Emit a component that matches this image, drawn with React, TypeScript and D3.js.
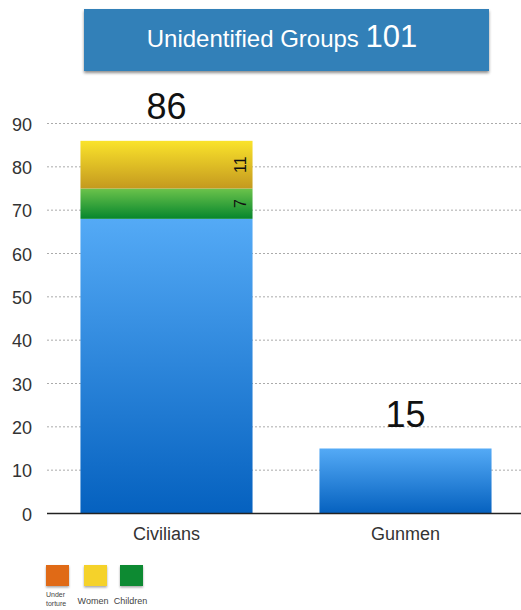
import React from "react";
import * as d3 from "d3";

const categories = ["Civilians", "Gunmen"];
const baseValues = [68, 15];
const childrenValues = [7, 0];
const womenValues = [11, 0];
const totals = [86, 15];
const yTicks = [0, 10, 20, 30, 40, 50, 60, 70, 80, 90];
const legendItems = [
  { key: "Under torture", lines: ["Under", "torture"], color: "#e06a13" },
  { key: "Women", lines: ["Women"], color: "#f5d22a" },
  { key: "Children", lines: ["Children"], color: "#078a30" },
];
const titleText = "Unidentified Groups";
const titleNumber = "101";

const W = 521;
const H = 610;
const FONT = "'Liberation Sans', Arial, Helvetica, sans-serif";

export default function App() {
  const x = d3.scaleBand<string>().domain(categories).range([47, 525]).paddingInner(0.28).paddingOuter(0.14);
  const y = d3.scaleLinear().domain([0, 90]).range([513.5, 123.5]);
  const bw = x.bandwidth();

  const stacks = categories.map((c, i) => {
    const segs: { y0: number; y1: number; grad: string; label?: number }[] = [];
    let acc = 0;
    segs.push({ y0: acc, y1: acc + baseValues[i], grad: "gBlue" });
    acc += baseValues[i];
    if (childrenValues[i] > 0) {
      segs.push({ y0: acc, y1: acc + childrenValues[i], grad: "gGreen", label: childrenValues[i] });
      acc += childrenValues[i];
    }
    if (womenValues[i] > 0) {
      segs.push({ y0: acc, y1: acc + womenValues[i], grad: "gYellow", label: womenValues[i] });
      acc += womenValues[i];
    }
    return { c, segs, top: acc, total: totals[i] };
  });

  return (
    <svg width={W} height={H} style={{ position: "absolute", left: 0, top: 0 }} fontFamily={FONT}>
      <defs>
        <linearGradient id="gBlue" x1="0" y1="0" x2="0" y2="1">
          <stop offset="0" stopColor="#54aaf6" />
          <stop offset="1" stopColor="#0561bf" />
        </linearGradient>
        <linearGradient id="gGreen" x1="0" y1="0" x2="0" y2="1">
          <stop offset="0" stopColor="#6cc34b" />
          <stop offset="1" stopColor="#06862d" />
        </linearGradient>
        <linearGradient id="gYellow" x1="0" y1="0" x2="0" y2="1">
          <stop offset="0" stopColor="#fae32b" />
          <stop offset="1" stopColor="#c4991f" />
        </linearGradient>
        <filter id="shadow" x="-10%" y="-20%" width="120%" height="160%">
          <feDropShadow dx="0" dy="2" stdDeviation="1.5" floodColor="#000" floodOpacity="0.45" />
        </filter>
        <filter id="sqShadow" x="-30%" y="-30%" width="160%" height="170%">
          <feDropShadow dx="0" dy="1.5" stdDeviation="1" floodColor="#000" floodOpacity="0.35" />
        </filter>
      </defs>

      {/* Title box */}
      <rect x={84} y={9} width={405} height={62} fill="#3080b8" filter="url(#shadow)" />
      <text x={282} y={47} textAnchor="middle" fill="#fff">
        <tspan fontSize={24}>{titleText} </tspan>
        <tspan fontSize={31}>{titleNumber}</tspan>
      </text>

      {/* Gridlines */}
      {yTicks.filter((t) => t > 0).map((t) => (
        <line key={t} x1={47} x2={521} y1={y(t)} y2={y(t)} stroke="#aaa" strokeWidth={1} strokeDasharray="2,2" />
      ))}

      {/* Y tick labels */}
      {yTicks.map((t) => (
        <text key={t} x={32} y={y(t) + 7} textAnchor="end" fontSize={18} fill="#333">
          {t}
        </text>
      ))}

      {/* Bars */}
      {stacks.map((s) => {
        const x0 = x(s.c)!;
        return (
          <g key={s.c}>
            {s.segs.map((seg, j) => (
              <rect key={j} x={x0} y={y(seg.y1)} width={bw} height={y(seg.y0) - y(seg.y1)} fill={`url(#${seg.grad})`} />
            ))}
            {s.segs.filter((seg) => seg.label !== undefined).map((seg, j) => {
              const cy = (y(seg.y0) + y(seg.y1)) / 2;
              const cx = x0 + bw - 12;
              return (
                <text key={`l${j}`} transform={`translate(${cx},${cy}) rotate(-90)`} textAnchor="middle" dy={5.5} fontSize={16} fill="#111">
                  {seg.label}
                </text>
              );
            })}
            <text x={x0 + bw / 2} y={y(s.top) - 22} textAnchor="middle" fontSize={36} fill="#111">
              {s.total}
            </text>
            <text x={x0 + bw / 2} y={540} textAnchor="middle" fontSize={18} fill="#333">
              {s.c}
            </text>
          </g>
        );
      })}

      {/* Axis */}
      <line x1={47} x2={521} y1={y(0)} y2={y(0)} stroke="#222" strokeWidth={1.5} />

      {/* Legend */}
      {legendItems.map((item, i) => {
        const lx = [46, 84, 120][i];
        return (
          <g key={item.key}>
            <rect x={lx} y={565} width={23} height={21} fill={item.color} filter="url(#sqShadow)" />
            {item.lines.length === 1 ? (
              <text x={[0, 93, 130.5][i]} y={604} textAnchor="middle" fontSize={9} fill="#444">
                {item.lines[0]}
              </text>
            ) : (
              item.lines.map((ln, k) => (
                <text key={k} x={lx} y={597 + k * 9} textAnchor="start" fontSize={7} fill="#444">
                  {ln}
                </text>
              ))
            )}
          </g>
        );
      })}
    </svg>
  );
}
